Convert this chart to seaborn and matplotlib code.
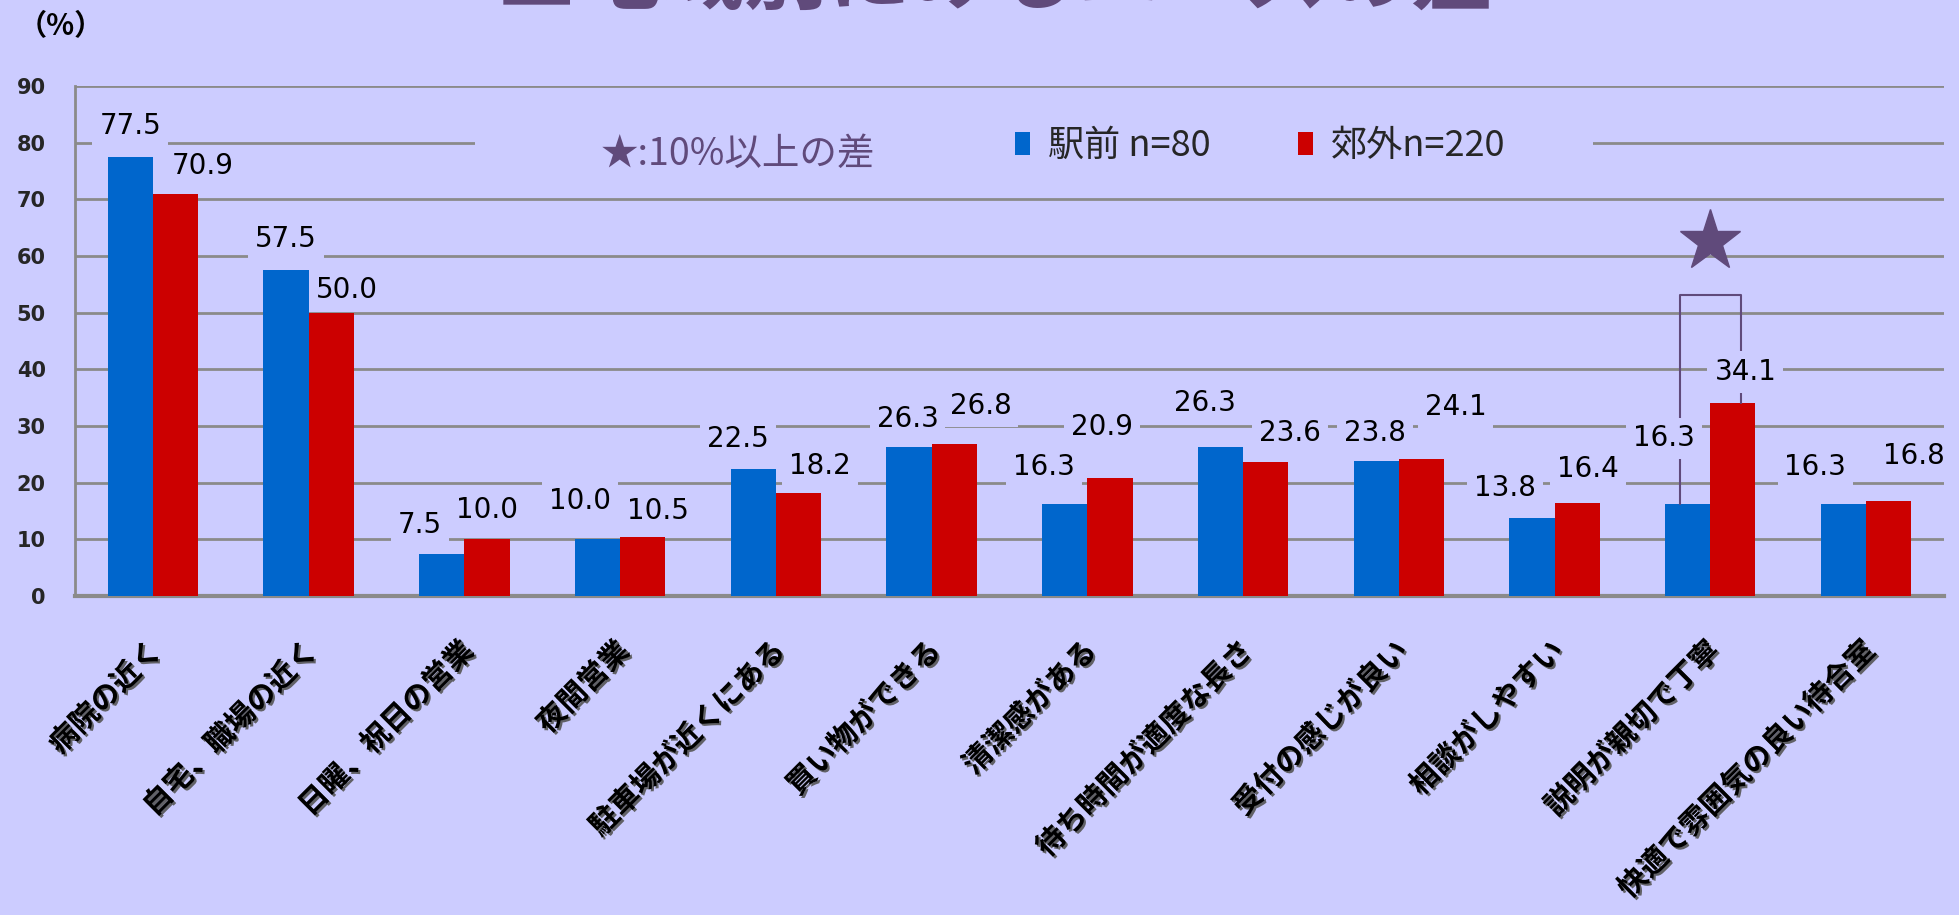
import matplotlib
matplotlib.use("Agg")
import matplotlib.pyplot as plt
import matplotlib.patheffects as pe
import matplotlib.transforms as mtransforms
from matplotlib.patches import Rectangle
import numpy as np
import pandas as pd
import seaborn as sns

# data
items = ["病院の近く", "自宅、職場の近く", "日曜、祝日の営業", "夜間営業", "駐車場が近くにある",
         "買い物ができる", "清潔感がある", "待ち時間が適度な長さ", "受付の感じが良い",
         "相談がしやすい", "説明が親切で丁寧", "快適で雰囲気の良い待合室"]
series = ["駅前 n=80", "郊外n=220"]
ekimae = [77.5, 57.5, 7.5, 10.0, 22.5, 26.3, 16.3, 26.3, 23.8, 13.8, 16.3, 16.3]
kougai = [70.9, 50.0, 10.0, 10.5, 18.2, 26.8, 20.9, 23.6, 24.1, 16.4, 34.1, 16.8]
star_item = "説明が親切で丁寧"

# where the value labels sit (hand-placed in the original slide)
label_y_ekimae = [82.9, 63.0, 12.5, 16.7, 27.7, 31.2, 22.7, 34.1, 28.8, 19.1, 27.8, 22.8]
label_y_kougai = [75.9, 54.0, 15.2, 15.0, 23.0, 33.6, 29.9, 28.8, 33.4, 22.4, 39.5, 24.7]
label_dx_ekimae = [0, 0, -0.14, -0.11, -0.10, -0.01, -0.135, -0.10, -0.01, -0.175, -0.15, -0.18]
label_dx_kougai = [0.175, 0.10, 0, 0.10, 0.14, 0.17, -0.05, 0.155, 0.22, 0.07, 0.08, 0.16]

BG = "#CCCCFF"
GRID = "#8A8A8A"
PURPLE = "#604A7B"
BLUE = "#0066CC"
RED = "#CC0000"

df = pd.DataFrame({
    "項目": items * 2,
    "割合": ekimae + kougai,
    "地域": [series[0]] * len(items) + [series[1]] * len(items),
})

sns.set_theme(style="white")
plt.rcParams["font.family"] = ["Noto Sans CJK JP", "DejaVu Sans"]

fig = plt.figure(figsize=(19.59, 9.15), dpi=100, facecolor=BG)
ax = fig.add_axes([0.0383, 0.3486, 0.954, 0.5574])
ax.set_facecolor(BG)

sns.barplot(data=df, x="項目", y="割合", hue="地域", palette=[BLUE, RED],
            width=0.58, saturation=1, linewidth=0, ax=ax, zorder=3)

ax.set_xlim(-0.5, 11.5)
ax.set_ylim(0, 90)
ax.set_yticks(range(0, 91, 10))
ax.set_axisbelow(True)
ax.yaxis.grid(True, color=GRID, lw=2)
ax.xaxis.grid(False)
ax.set_xlabel("")
ax.set_ylabel("")

for side in ["top", "right"]:
    ax.spines[side].set_visible(False)
ax.spines["left"].set_color(GRID)
ax.spines["left"].set_linewidth(2)
ax.spines["bottom"].set_color(GRID)
ax.spines["bottom"].set_linewidth(3)

ax.tick_params(axis="y", length=7, width=2, color=GRID, pad=14, labelsize=15)
for lbl in ax.get_yticklabels():
    lbl.set_fontweight("bold")
    lbl.set_family("DejaVu Sans")

ax.set_xticks(np.arange(-0.5, 12, 1), minor=True)
ax.tick_params(axis="x", which="minor", length=8, width=1.5, color=GRID)
ax.tick_params(axis="x", which="major", length=0, pad=36)
shift = mtransforms.ScaledTranslation(3 / 72, 0, fig.dpi_scale_trans)
for lbl in ax.get_xticklabels():
    lbl.set_rotation(45)
    lbl.set_ha("right")
    lbl.set_va("center")
    lbl.set_rotation_mode("anchor")
    lbl.set_fontsize(21)
    lbl.set_fontweight("bold")
    lbl.set_color("black")
    lbl.set_transform(lbl.get_transform() + shift)
    lbl.set_path_effects([pe.SimplePatchShadow(offset=(1.5, -1.5), shadow_rgbFace="#555555", alpha=0.9),
                          pe.Normal()])

# box behind the legend hides the 80 gridline
ax.add_patch(Rectangle((2.07, 72.5), 7.18, 13.3, fc=BG, ec="none", zorder=1))

# value labels
box = dict(boxstyle="square,pad=0.25", fc=BG, ec="none")
for i in range(len(items)):
    ax.text(i - 0.145 + label_dx_ekimae[i], label_y_ekimae[i], f"{ekimae[i]:.1f}",
            ha="center", va="center", fontsize=20, family="DejaVu Sans",
            color="black", bbox=box, zorder=5)
    ax.text(i + 0.145 + label_dx_kougai[i], label_y_kougai[i], f"{kougai[i]:.1f}",
            ha="center", va="center", fontsize=20, family="DejaVu Sans",
            color="black", bbox=box, zorder=5)

# star + bracket for the 10%+ difference
sx = items.index(star_item)
ax.plot([sx], [62.7], marker="*", ms=46, color=PURPLE, mec=PURPLE, zorder=4)
ax.plot([sx - 0.194, sx - 0.194, sx + 0.199, sx + 0.199],
        [ekimae[sx], 53.1, 53.1, kougai[sx]], color=PURPLE, lw=1.5, zorder=3.5)

ax.text(0.281, 0.866, "★:10%以上の差", transform=ax.transAxes, ha="left", va="center",
        fontsize=27, color=PURPLE, zorder=5)

sns.move_legend(ax, "center left", bbox_to_anchor=(0.503, 0.882), ncol=2, frameon=False,
                title=None, fontsize=26, handlelength=0.42, handleheight=0.62,
                handletextpad=0.5, columnspacing=2.4, borderpad=0, borderaxespad=0)

fig.text(0.009, 0.972, "（%）", fontsize=21, color="black", ha="left", va="center",
         fontweight="bold")
fig.text(0.508, 0.9967, "■地域別にみるニーズの差", ha="center", va="baseline",
         fontsize=60, color=PURPLE, fontweight="bold")

fig.savefig("out.png", dpi=100, facecolor=BG)
